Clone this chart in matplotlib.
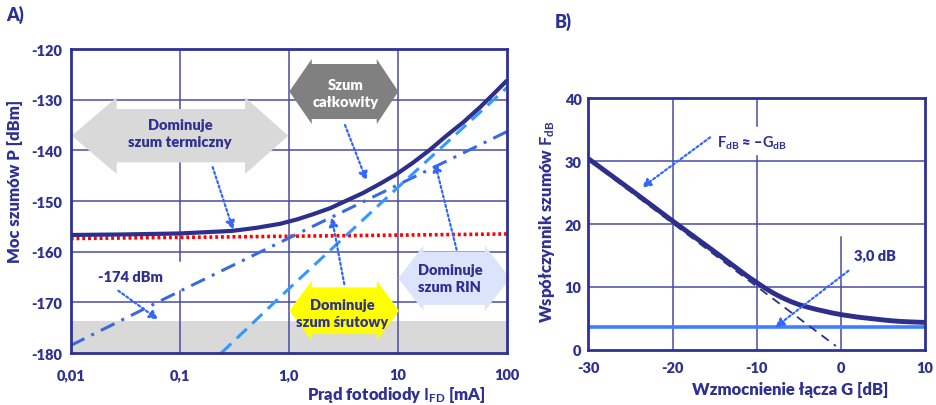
import matplotlib
matplotlib.use('Agg')
import matplotlib.pyplot as plt
from matplotlib.patches import Polygon
from matplotlib import font_manager as fm

# pick a family that really has a bold face
FONT = 'Lato'
for fam in ['Lato', 'Open Sans', 'Noto Sans', 'Liberation Sans']:
    f = fm.findfont(fm.FontProperties(family=fam, weight='bold'), fallback_to_default=False)
    if 'bold' in f.lower():
        FONT = fam
        break
W = 800  # a bit heavier than plain bold, closer to the original

plt.rcParams['font.family'] = [FONT, 'DejaVu Sans']
plt.rcParams['font.weight'] = W
plt.rcParams['axes.unicode_minus'] = False
plt.rcParams['mathtext.fontset'] = 'custom'
plt.rcParams['mathtext.bf'] = FONT + ':bold'
plt.rcParams['mathtext.rm'] = FONT + ':bold'

NAVY = '#2e3192'
LINE = '#2e2e8b'
GRID = '#4a4aa4'

# --- panel A data (photodiode current [mA] vs noise power [dBm])
i_total = [0.01, 0.03, 0.1, 0.3, 0.5, 0.83, 1.2, 1.67, 2.4, 3.39, 4.8, 6.84,
           9.7, 13.8, 19.6, 27.9, 40, 56.5, 75, 100]
p_total = [-156.7, -156.6, -156.4, -155.9, -155.3, -154.5, -153.6, -152.6, -151.4, -149.9, -148.4, -146.6,
           -144.7, -142.4, -139.9, -137.1, -134.4, -131.5, -128.9, -126.2]
i_thermal = [0.01, 100]
p_thermal = [-157.4, -156.5]
i_shot = [0.01, 0.1, 1, 10, 100]
p_shot = [-178.5, -167.8, -157.3, -146.8, -136.3]
i_rin = [0.24, 1, 10, 100]
p_rin = [-180.0, -167.3, -147.3, -127.6]
floor_lo, floor_hi = -180, -173.7
xticks_a = [0.01, 0.1, 1, 10, 100]
xlabels_a = ['0,01', '0,1', '1,0', '10', '100']
yticks_a = [-180, -170, -160, -150, -140, -130, -120]

# --- panel B data (link gain [dB] vs noise figure [dB])
g_nf = [-30, -25, -20, -15, -12, -11, -10, -9, -8, -7, -6, -5, -4, -3, -2, -1,
        0, 1, 2, 3, 4, 5, 6, 7, 8, 9, 10]
f_nf = [30.4, 25.5, 20.5, 15.6, 12.6, 11.6, 10.7, 9.8, 9.0, 8.3, 7.7, 7.2, 6.8, 6.45, 6.15, 5.85,
        5.6, 5.4, 5.2, 5.05, 4.9, 4.75, 4.62, 4.52, 4.45, 4.4, 4.35]
g_asym = [-30, -0.6]
f_asym = [30.2, 0.6]
g_floor = [-30, 10]
f_floor = [3.7, 3.7]
xticks_b = [-30, -20, -10, 0, 10]
yticks_b = [0, 10, 20, 30, 40]


def dbl_arrow(ax, x0, x1, h0, h1, yc, hh, bh, color):
    pts = [(x0, yc), (h0, yc + hh), (h0, yc + bh), (h1, yc + bh), (h1, yc + hh),
           (x1, yc), (h1, yc - hh), (h1, yc - bh), (h0, yc - bh), (h0, yc - hh)]
    ax.add_patch(Polygon(pts, closed=True, transform=ax.transAxes, fc=color,
                         ec='none', zorder=1, clip_on=False))


def dotted_arrow(ax, xy, xytext):
    ax.annotate('', xy=xy, xytext=xytext,
                arrowprops=dict(arrowstyle='-|>', color='#3366ff', lw=1.6,
                                linestyle=(0, (1, 1.2)), mutation_scale=13,
                                shrinkA=0, shrinkB=0), zorder=4)


fig = plt.figure(figsize=(9.37, 4.06), dpi=100)

# ================= A =================
ax = fig.add_axes([0.0755, 0.128, 0.4656, 0.7488])
ax.set_xscale('log')
ax.set_xlim(0.01, 100)
ax.set_ylim(-180, -120)
ax.axhspan(floor_lo, floor_hi, color='#d9d9d9', lw=0, zorder=0.3)
for y in yticks_a[1:-1]:
    ax.axhline(y, color=GRID, lw=1.1, zorder=0.5)
ax.axvline(0.1, ymin=0, ymax=0.205, color=GRID, lw=1.1, zorder=0.5)
ax.axvline(0.1, ymin=0.304, ymax=1, color=GRID, lw=1.1, zorder=0.5)
for x in [1, 10]:
    ax.axvline(x, color=GRID, lw=1.1, zorder=0.5)

ax.plot(i_thermal, p_thermal, color='#ff0000', lw=2.6, ls=(0, (0.8, 0.8)), zorder=2)
ax.plot(i_shot, p_shot, color='#3a6ae0', lw=2.2, ls=(0, (5, 2.5, 1, 2.5)), zorder=2)
ax.plot(i_rin, p_rin, color='#3399ff', lw=2.2, ls=(0, (4.5, 2.5)), zorder=2)
ax.plot(i_total, p_total, color=LINE, lw=3, zorder=3, solid_capstyle='butt')

ax.set_xticks(xticks_a)
ax.set_xticklabels(xlabels_a)
ax.minorticks_off()
ax.set_yticks(yticks_a)
ax.tick_params(axis='both', length=0, labelsize=10.5, labelcolor=NAVY)
ax.tick_params(axis='x', pad=11)
ax.tick_params(axis='y', pad=6.5)
for lab in ax.get_xticklabels() + ax.get_yticklabels():
    lab.set_fontweight(W)
for s in ax.spines.values():
    s.set_color(NAVY)
    s.set_linewidth(2)
    s.set_zorder(5)

dbl_arrow(ax, 0.0023, 0.4987, 0.1054, 0.3995, 0.7148, 0.1262, 0.0877, '#d9d9d9')
dbl_arrow(ax, 0.5010, 0.7509, 0.5524, 0.7014, 0.8602, 0.1069, 0.0905, '#808080')
dbl_arrow(ax, 0.5010, 0.7525, 0.5524, 0.7014, 0.1391, 0.0987, 0.0768, '#ffff00')
dbl_arrow(ax, 0.7509, 1.0069, 0.8082, 0.9496, 0.2461, 0.1069, 0.0877, '#dbe4fb')

kw = dict(transform=ax.transAxes, ha='center', va='center', fontsize=10.5,
          fontweight=W, linespacing=1.4, zorder=4)
ax.text(0.2505, 0.7237, 'Dominuje\nszum termiczny', color=NAVY, **kw)
ax.text(0.6303, 0.8553, 'Szum\ncałkowity', color='white', **kw)
ax.text(0.6230, 0.1316, 'Dominuje\nszum śrutowy', color=NAVY, **kw)
ax.text(0.8689, 0.2467, 'Dominuje\nszum RIN', color=NAVY, **kw)
ax.text(0.0355, -164.8, '-174 dBm', color=NAVY, ha='center', va='center',
        fontsize=10.5, fontweight=W, zorder=4)

dotted_arrow(ax, (0.309, -155.7), (0.2, -143.3))
dotted_arrow(ax, (5.16, -146.0), (3.27, -135.0))
dotted_arrow(ax, (21.8, -142.4), (34.5, -159.6))
dotted_arrow(ax, (2.47, -153.2), (3.22, -166.4))
dotted_arrow(ax, (0.0635, -173.4), (0.0273, -167.7))

fig.text(0.016, 0.554, 'Moc szumów P [dBm]', rotation=90, ha='center', va='center',
         fontsize=12, fontweight=W, color=NAVY)
fig.text(0.4226, 0.027, r'Prąd fotodiody $\mathbf{I_{FD}}$ [mA]', ha='center', va='center',
         fontsize=12, fontweight=W, color=NAVY)
fig.text(0.007, 0.963, 'A)', ha='left', va='center', fontsize=13, fontweight=W, color=NAVY)

# ================= B =================
bx = fig.add_axes([0.628, 0.136, 0.3593, 0.6192])
bx.set_xlim(-30, 10)
bx.set_ylim(0, 40)
for y in [10, 20, 30]:
    bx.axhline(y, color=GRID, lw=1.1, zorder=0.5)
bx.axvline(-20, color=GRID, lw=1.1, zorder=0.5)
bx.axvline(-10, ymin=0, ymax=0.77, color=GRID, lw=1.1, zorder=0.5)
bx.axvline(-10, ymin=0.89, ymax=1, color=GRID, lw=1.1, zorder=0.5)
bx.axvline(0, ymin=0, ymax=0.45, color=GRID, lw=1.1, zorder=0.5)

bx.plot(g_floor, f_floor, color='#3f7fff', lw=2.6, zorder=2)
bx.plot(g_nf, f_nf, color=LINE, lw=3.5, zorder=2)
bx.plot(g_asym, f_asym, color=LINE, lw=1.3, ls=(0, (5, 3.5)), zorder=3)

bx.set_xticks(xticks_b)
bx.set_yticks(yticks_b)
bx.tick_params(axis='both', length=0, labelsize=10.5, labelcolor=NAVY)
bx.tick_params(axis='x', pad=8)
bx.tick_params(axis='y', pad=5)
for lab in bx.get_xticklabels() + bx.get_yticklabels():
    lab.set_fontweight(W)
for s in bx.spines.values():
    s.set_color(NAVY)
    s.set_linewidth(2)
    s.set_zorder(5)

bx.text(-14.75, 33.0, r'$\mathbf{F_{dB}}$ ≈ –$\mathbf{G_{dB}}$', ha='left', va='center',
        fontsize=10.5, fontweight=W, color=NAVY, zorder=4)
bx.text(4.03, 15.1, '3,0 dB', ha='center', va='center', fontsize=10.5,
        fontweight=W, color=NAVY, zorder=4)
dotted_arrow(bx, (-23.66, 25.8), (-15.54, 33.8))
dotted_arrow(bx, (-7.82, 3.56), (0.89, 12.57))

fig.text(0.5835, 0.453, r'Współczynnik szumów $\mathbf{F_{dB}}$', rotation=90, ha='center',
         va='center', fontsize=12, fontweight=W, color=NAVY)
fig.text(0.843, 0.039, 'Wzmocnienie łącza G [dB]', ha='center', va='center',
         fontsize=12, fontweight=W, color=NAVY)
fig.text(0.592, 0.945, 'B)', ha='left', va='center', fontsize=13, fontweight=W, color=NAVY)

fig.savefig('out.png', dpi=100)
